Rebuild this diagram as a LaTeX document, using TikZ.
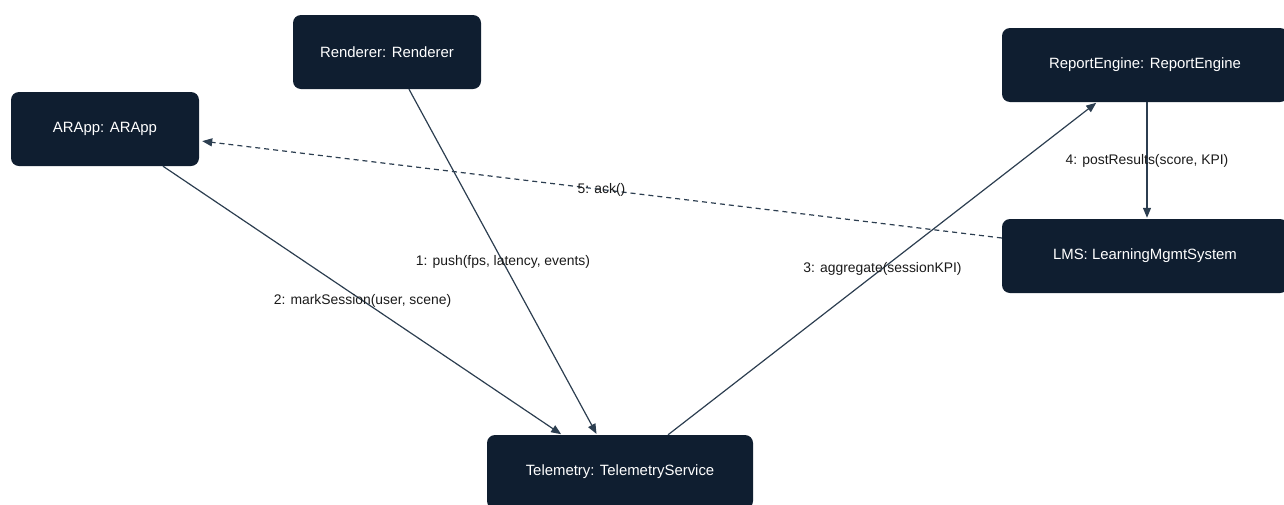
\documentclass[tikz,border=0pt]{standalone}
\usepackage{fontspec}
\setmainfont{Liberation Sans}
\usetikzlibrary{arrows.meta}
\definecolor{boxfill}{HTML}{0F1E30}
\definecolor{linkcol}{HTML}{2C3E50}
\definecolor{labeltext}{HTML}{1A1A1A}
\begin{document}
\begin{tikzpicture}[x=1pt, y=-1pt,
  obj/.style={rectangle, rounded corners=8pt, fill=boxfill, text=white,
    minimum height=74pt, inner sep=0pt, font=\fontsize{14.9}{17}\selectfont},
  msg/.style={draw=linkcol, line width=1.2pt,
    -{Triangle[length=10pt,width=8pt]}, shorten >=1pt},
  reply/.style={msg, dash pattern=on 5pt off 4pt},
  msglabel/.style={font=\fontsize{13.9}{16}\selectfont, text=labeltext, inner sep=1pt}]
  \useasboundingbox (0,0) rectangle (1284,504);
  \clip (0,0) rectangle (1284,504);

  % participants
  \node[obj, minimum width=188pt] (arapp) at (105,129) {ARApp: ARApp};
  \node[obj, minimum width=188pt] (ren)   at (387,52)  {Renderer: Renderer};
  \node[obj, minimum width=286pt] (rep)   at (1145,65) {ReportEngine: ReportEngine};
  \node[obj, minimum width=286pt] (lms)   at (1145,256) {LMS: LearningMgmtSystem};
  \node[obj, minimum width=266pt] (tel)   at (620,472) {Telemetry: TelemetryService};

  % messages
  \draw[msg] ([xshift=22pt]ren.south) -- ([xshift=-23pt]tel.north)
    node[msglabel, pos=0.5] {1: push(fps, latency, events)};
  \draw[msg] ([xshift=58pt]arapp.south) -- ([xshift=-58pt]tel.north)
    node[msglabel, pos=0.5] {2: markSession(user, scene)};
  \draw[msg] ([xshift=48pt]tel.north) -- ([xshift=-48pt]rep.south)
    node[msglabel, pos=0.5] {3: aggregate(sessionKPI)};
  \draw[msg] ([xshift=2pt]rep.south) -- ([xshift=2pt]lms.north)
    node[msglabel, pos=0.5] {4: postResults(score, KPI)};
  \draw[reply] ([yshift=18pt]lms.west) -- ([yshift=-12pt, xshift=2pt]arapp.east)
    node[msglabel, pos=0.5] {5: ack()};
\end{tikzpicture}
\end{document}
